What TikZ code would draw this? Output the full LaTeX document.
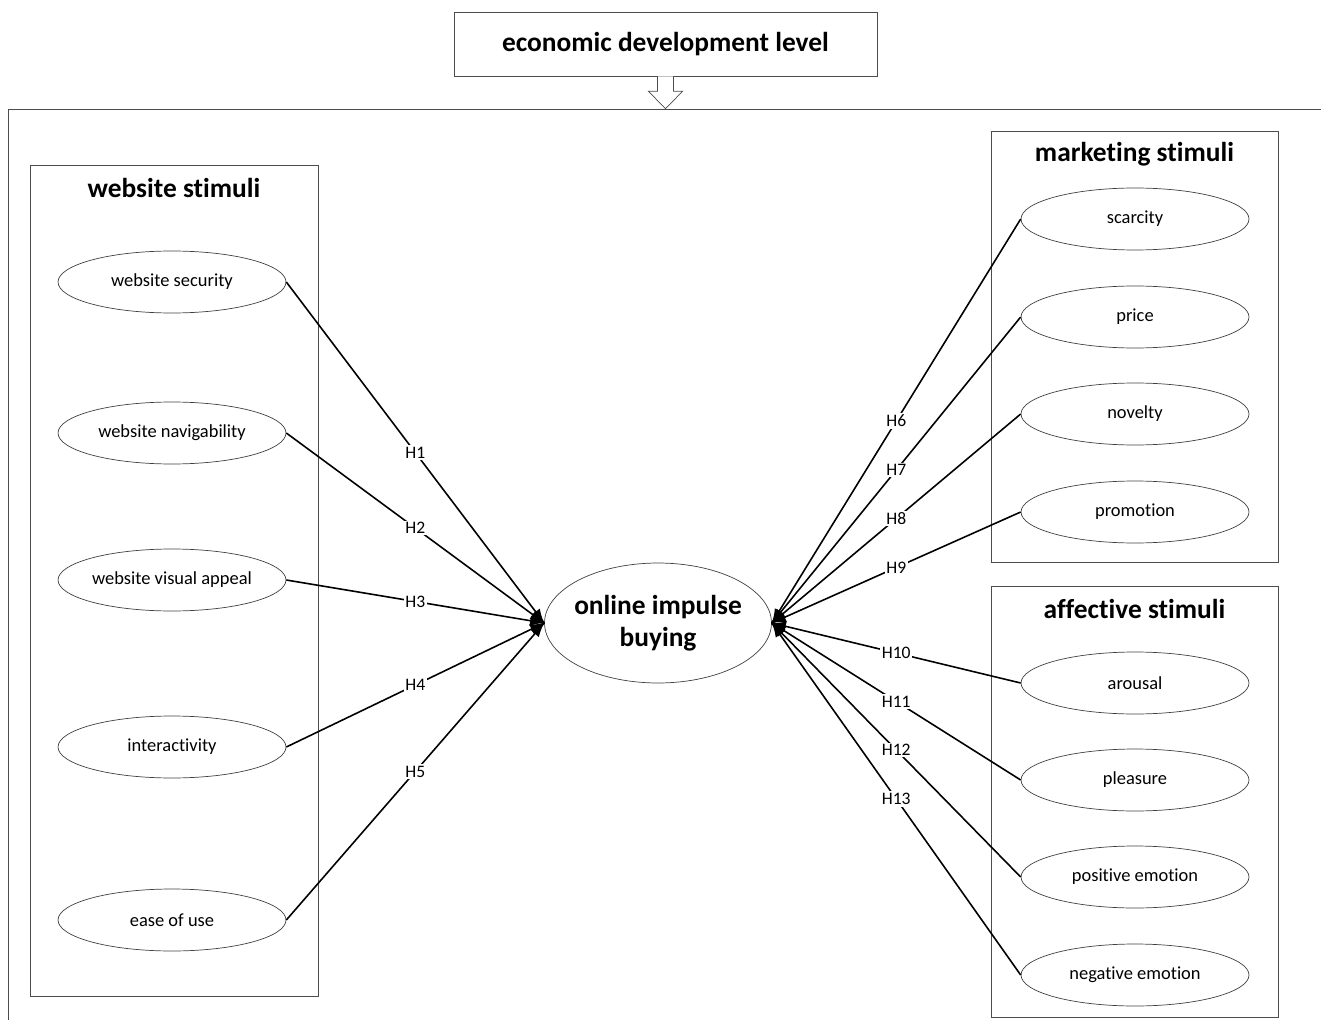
\documentclass[tikz,border=0pt]{standalone}
\usepackage{fontspec}
\setmainfont{Carlito}[Ligatures=NoCommon]
\usetikzlibrary{positioning, calc, shapes.geometric, arrows.meta, decorations.markings}
\tikzstyle{Arrow} = [
line width=0.9pt,
decoration={
markings,
mark=at position 0.9999 with {
\arrow[line width=0.9pt]{Latex[length=8pt,width=6pt]}}},
preaction = {decorate}]
\tikzstyle{stim} = [draw=black!75, ellipse, inner xsep=0pt, minimum width=4.56cm, minimum height=1.24cm,
        font=\fontsize{10.5}{12}\selectfont]
\tikzstyle{group} = [draw=black!70, rectangle, inner sep=0pt]
\tikzstyle{title} = [font=\fontsize{15.6}{18}\selectfont\bfseries]
\tikzstyle{hyp} = [fill=white, inner sep=1pt, font=\fontsize{10}{12}\selectfont]

\begin{document}
\begin{tikzpicture}[x=0.02cm, y=-0.02cm]
    \useasboundingbox (0,0) rectangle (1321,1020);
    % outer frame and moderator
    \node [group, minimum width=26.64cm, minimum height=18.62cm] (frame) at (674,574.5) {};
    \node [group, fill=white, minimum width=8.46cm, minimum height=1.28cm, title] (econ) at (665.5,44) {economic development level};
    \draw [black!70, fill=white] ($(econ.south)+(-8,0)$) -- ($(econ.south)+(-8,15)$) -- ($(econ.south)+(-17,15)$)
        -- (econ.south |- frame.north) -- ($(econ.south)+(17,15)$) -- ($(econ.south)+(8,15)$) -- ($(econ.south)+(8,0)$);
    % groups
    \node [group, minimum width=5.76cm, minimum height=16.62cm] (web) at (174,580.5) {};
    \node [title] at (174,188) {website stimuli};
    \node [group, minimum width=5.74cm, minimum height=8.62cm] (mkt) at (1134.5,346.5) {};
    \node [title] at (1134.5,154) {marketing stimuli};
    \node [group, minimum width=5.74cm, minimum height=8.62cm] (aff) at (1134.5,801.5) {};
    \node [title] at (1134.5,609) {affective stimuli};
    % center
    \node [draw=black!75, ellipse, inner xsep=-4pt, inner ysep=0pt, minimum width=4.54cm, minimum height=2.4cm,
        title, align=center] (oib) at (658,623) {online impulse\\buying};
    % website stimuli
    \node [stim] (w1) at (172,282) {website security};
    \node [stim] (w2) at (172,433) {website navigability};
    \node [stim] (w3) at (172,580) {website visual appeal};
    \node [stim] (w4) at (172,747) {interactivity};
    \node [stim] (w5) at (172,920) {ease of use};
    % marketing stimuli
    \node [stim] (m1) at (1135,219) {scarcity};
    \node [stim] (m2) at (1135,317) {price};
    \node [stim] (m3) at (1135,414) {novelty};
    \node [stim] (m4) at (1135,512) {promotion};
    % affective stimuli
    \node [stim] (a1) at (1135,683) {arousal};
    \node [stim] (a2) at (1135,780) {pleasure};
    \node [stim] (a3) at (1135,877) {positive emotion};
    \node [stim] (a4) at (1135,975) {negative emotion};
    % hypotheses
    \draw[Arrow] (w1.east) -- node[hyp] {H1} (oib.west);
    \draw[Arrow] (w2.east) -- node[hyp] {H2} (oib.west);
    \draw[Arrow] (w3.east) -- node[hyp] {H3} (oib.west);
    \draw[Arrow] (w4.east) -- node[hyp] {H4} (oib.west);
    \draw[Arrow] (w5.east) -- node[hyp] {H5} (oib.west);
    \draw[Arrow] (m1.west) -- node[hyp] {H6} (oib.east);
    \draw[Arrow] (m2.west) -- node[hyp] {H7} (oib.east);
    \draw[Arrow] (m3.west) -- node[hyp] {H8} (oib.east);
    \draw[Arrow] (m4.west) -- node[hyp] {H9} (oib.east);
    \draw[Arrow] (a1.west) -- node[hyp] {H10} (oib.east);
    \draw[Arrow] (a2.west) -- node[hyp] {H11} (oib.east);
    \draw[Arrow] (a3.west) -- node[hyp] {H12} (oib.east);
    \draw[Arrow] (a4.west) -- node[hyp] {H13} (oib.east);
\end{tikzpicture}
\end{document}
